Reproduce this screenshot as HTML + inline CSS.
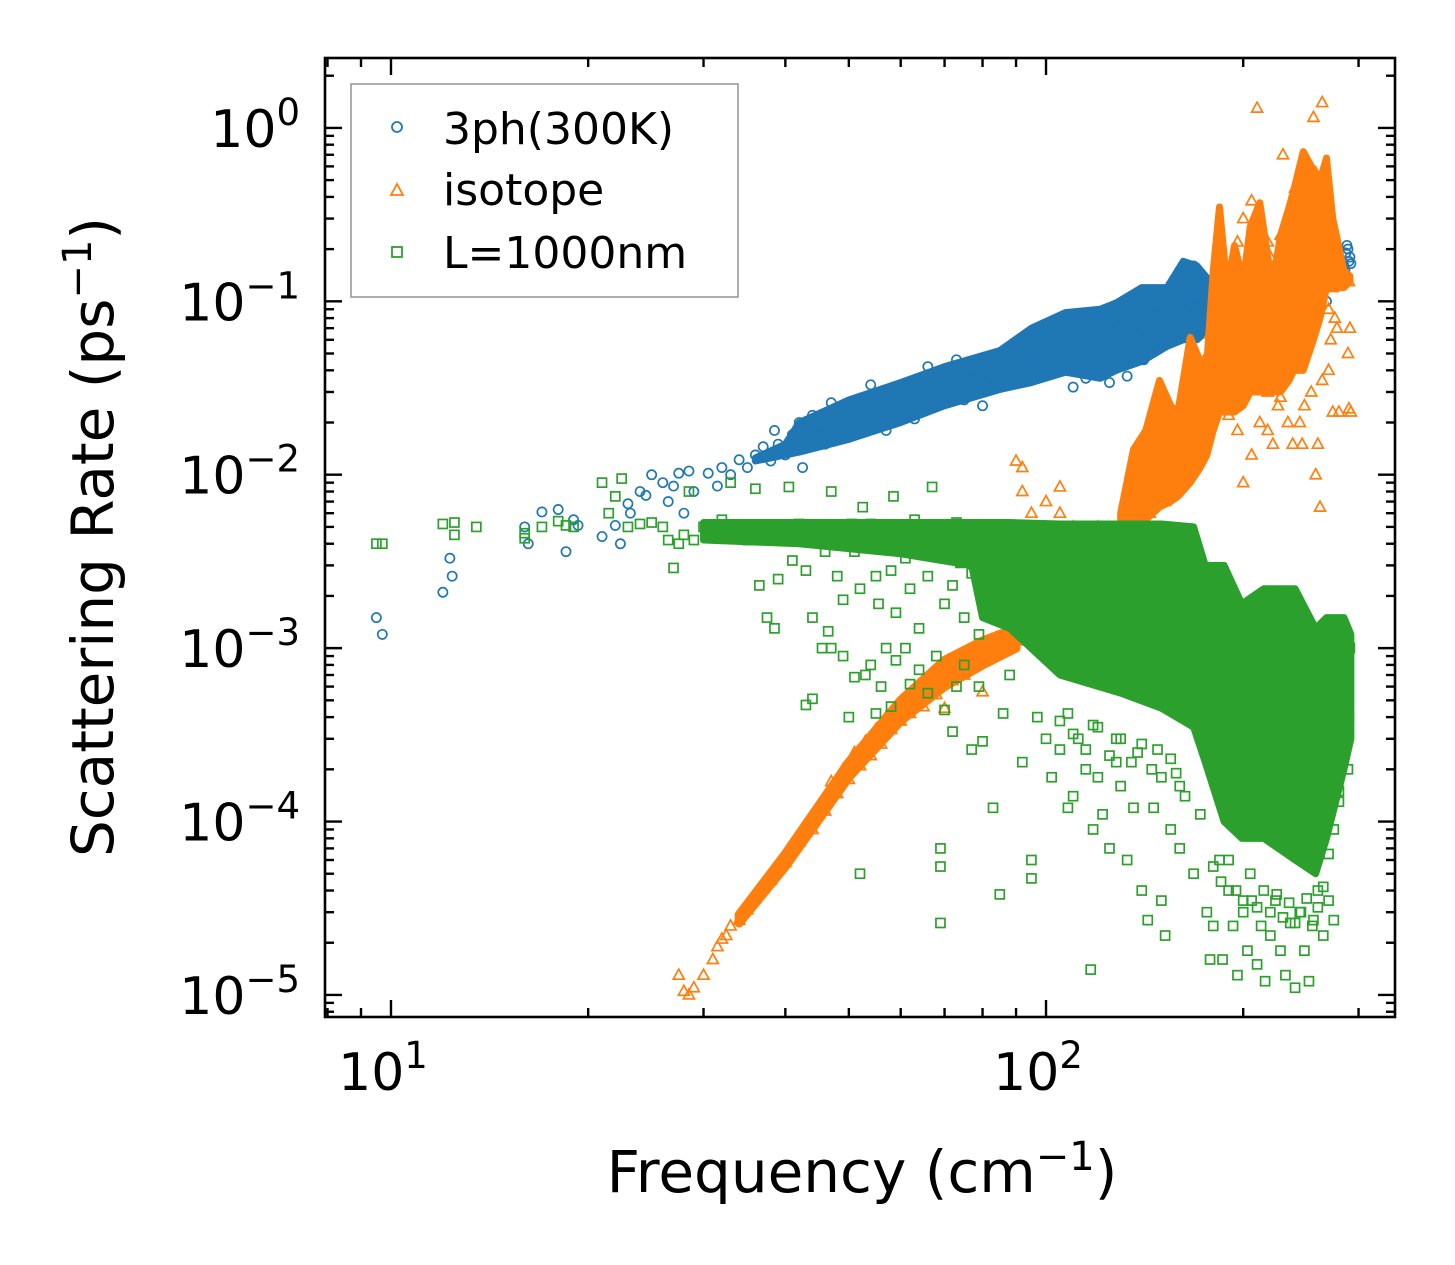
<!DOCTYPE html>
<html><head><meta charset="utf-8"><title>Scattering Rate vs Frequency</title>
<style>
html,body{margin:0;padding:0;background:#fff;}
svg{display:block;font-family:"DejaVu Sans","Liberation Sans",sans-serif;}
</style></head>
<body>
<svg id="chart" width="1455" height="1265" viewBox="0 0 1455 1265" xmlns="http://www.w3.org/2000/svg">
<rect x="0" y="0" width="1455" height="1265" fill="#fff"/>
<g id="marks"></g>
<g id="axes"></g>
<g id="legend">
  <rect x="351" y="84" width="387" height="213" fill="#fff" fill-opacity="0.8" stroke="#999" stroke-width="1.6"/>
  <circle cx="397" cy="127" r="5" fill="none" stroke="#1f77b4" stroke-width="1.8"/>
  <text x="443" y="144" font-size="44">3ph(300K)</text>
  <path d="M397,184 L403,195 L391,195 Z" fill="none" stroke="#ff7f0e" stroke-width="1.8"/>
  <text x="443" y="205" font-size="44">isotope</text>
  <rect x="392" y="247" width="10" height="10" fill="none" stroke="#2ca02c" stroke-width="1.8"/>
  <text x="443" y="268" font-size="44">L=1000nm</text>
</g>
<text x="862" y="1192" font-size="58" text-anchor="middle">Frequency (cm<tspan dy="-22" font-size="40">−1</tspan><tspan dy="22">)</tspan></text>
<text transform="translate(113,537) rotate(-90)" font-size="58" text-anchor="middle">Scattering Rate (ps<tspan dy="-22" font-size="40">−1</tspan><tspan dy="22">)</tspan></text>
</svg>
<script>
const blueFreq=[9.5,9.7,12,12.3,12.4,16,16.2,17,18,18.5,19,19.3,21,22,22.4,23,23.2,24,24.5,25,26,26.5,27,27.5,28,28.5,29,30.5,31.5,32,33,34,35,36,37,38,38.5,39,40,41,42,42.5,43,44,45,46,47,48,49,50,51,52,53,54,55,56,57,58,59,60,61,62,63,64,65,66,67,68,69,70,71,72,73,74,75,76,77,78,79,80,81,82,83,84,85,86,87,88,89,90,91,92,93,94,95,96,97,98,99,100,102,104,105,106,108,110,111,112,114,115,116,118,120,121,122,124,125,126,128,130,132,133,134,136,138,140,141,142,144,146,147,149,150,152,154,155,157,159,160,162,163,164,166,167,168,170,171,172,174,176,178,180,183,186,250,255,258,262,266,270,274,276,278,280,279,277,268,
 285,287,289,291,286,290,288,292];
const blueRate=[1.5e-3,1.2e-3,2.1e-3,3.3e-3,2.6e-3,5e-3,4e-3,6.1e-3,6.3e-3,3.6e-3,5.5e-3,5.1e-3,4.4e-3,5.1e-3,4e-3,6.8e-3,6e-3,8e-3,7.6e-3,1e-2,9e-3,7e-3,8.6e-3,1.02e-2,6e-3,1.05e-2,8e-3,1.02e-2,8.6e-3,1.1e-2,1e-2,1.22e-2,1.1e-2,1.3e-2,1.45e-2,1.2e-2,1.8e-2,1.5e-2,1.3e-2,1.7e-2,2e-2,1.1e-2,1.6e-2,2.2e-2,1.9e-2,1.5e-2,2.6e-2,2e-2,1.7e-2,2.3e-2,2.6e-2,1.9e-2,2.4e-2,3.3e-2,2.2e-2,2.7e-2,1.8e-2,2.6e-2,3e-2,2.3e-2,3.2e-2,2.7e-2,2.1e-2,3.5e-2,2.9e-2,4.2e-2,3.1e-2,2.6e-2,3.6e-2,3.3e-2,3.9e-2,3e-2,4.6e-2,3.5e-2,2.7e-2,4e-2,3.4e-2,4.5e-2,3.8e-2,2.5e-2,4.1e-2,3.6e-2,4.8e-2,3.9e-2,3.3e-2,4.4e-2,5.1e-2,3.9e-2,4.6e-2,5.4e-2,4.2e-2,3.5e-2,5.9e-2,4.8e-2,5.3e-2,4.4e-2,6.2e-2,5e-2,3.8e-2,5.6e-2,6.8e-2,5.1e-2,4.4e-2,7.5e-2,5.8e-2,3.2e-2,6.4e-2,4.9e-2,7.1e-2,3.6e-2,5.6e-2,8e-2,6.2e-2,4e-2,7e-2,5.3e-2,3.4e-2,7.6e-2,6.1e-2,8.2e-2,5e-2,3.7e-2,7.2e-2,9e-2,6.5e-2,8e-2,4.6e-2,1e-1,7.4e-2,5.6e-2,9.4e-2,7.8e-2,1.1e-1,8.7e-2,6.6e-2,1.2e-1,9e-2,7.2e-2,1.3e-1,1e-1,8e-2,1.5e-1,1.2e-1,9.3e-2,1.6e-1,1.05e-1,7.5e-2,1.3e-1,8.8e-2,1.1e-1,7.2e-2,9.5e-2,6.6e-2,8.4e-2,1.4e-1,1.2e-1,8e-2,1.1e-1,1.5e-1,1.3e-1,1.6e-1,1.9e-1,1.8e-1,2e-1,1.7e-1,1.6e-1,1e-1,
 1.6e-1,1.9e-1,2e-1,1.8e-1,1.5e-1,1.7e-1,2.1e-1,1.65e-1];
// dense-band envelope
const blueBandFreq=[36,40,42,50,60,70,85,95,107,121,128,140,153,162,170,178];
const blueBandLow=[1.2e-2,1.3e-2,1.35e-2,1.6e-2,2e-2,2.5e-2,3.1e-2,3.4e-2,3.9e-2,3.6e-2,4e-2,4.5e-2,5.5e-2,6e-2,6e-2,7e-2];
const blueBandHigh=[1.25e-2,1.5e-2,2e-2,2.7e-2,3.4e-2,4.2e-2,5.2e-2,7e-2,8.6e-2,9e-2,9.8e-2,1.2e-1,1.2e-1,1.7e-1,1.6e-1,1.3e-1];

const orangeFreq=[27.5,28,28.5,29,30,31,31.5,32,32.5,33,34,35,36,37,38,39,40,41,42,43,44,45,46,47,48,49,50,51,52,53,54,55,56,57,58,59,60,62,64,66,68,70,72,74,76,78,80,82,84,86,88,90,44,46,48,50,52,54,56,58,60,62,65,68,70,72,75,78,80,82,85,88,90,47,49,51,53,55,57,61,63,67,71,
 90,92,95,100,105,110,115,120,125,130,132,134,136,138,140,142,144,146,148,150,152,154,156,158,160,162,164,166,168,170,172,174,176,178,180,182,184,186,188,190,192,194,196,198,200,202,204,206,208,210,212,214,216,218,220,222,224,226,228,230,232,234,236,238,240,242,244,246,248,250,252,254,256,258,260,262,264,266,268,270,272,274,276,278,280,278,270,264,260,254,248,244,238,234,228,222,218,212,206,200,196,92,105,
 212,218,222,226,232,238,242,248,252,256,262,266,270,274,203,208,193,188,183,179,174,169,163,157,151,
 290,291,289,292,290,246,258];
const orangeRate=[1.3e-5,1.05e-5,1e-5,1.1e-5,1.3e-5,1.6e-5,1.9e-5,2.1e-5,2.2e-5,2.5e-5,2.7e-5,3.1e-5,3.6e-5,4.1e-5,4.6e-5,5.3e-5,5.8e-5,6.8e-5,7.6e-5,8.7e-5,1e-4,1.1e-4,1.3e-4,1.5e-4,1.65e-4,1.8e-4,2e-4,2.2e-4,2.3e-4,2.6e-4,2.8e-4,3e-4,3.3e-4,3.6e-4,3.9e-4,4.2e-4,4.4e-4,5e-4,5.6e-4,6.2e-4,6.8e-4,7.5e-4,8.2e-4,8.8e-4,9.4e-4,1e-3,1.05e-3,1.1e-3,1.15e-3,1.2e-3,1.25e-3,1.3e-3,9e-5,1.15e-4,1.45e-4,1.75e-4,2.1e-4,2.4e-4,2.8e-4,3.4e-4,3.8e-4,4.2e-4,4.6e-4,5.4e-4,4.5e-4,6.5e-4,7e-4,8e-4,5.6e-4,9e-4,9.5e-4,1e-3,1.1e-3,1.7e-4,2e-4,2.5e-4,2.9e-4,3.4e-4,4e-4,5.1e-4,5.8e-4,7e-4,8.5e-4,
 1.2e-2,8e-3,6e-3,7e-3,6e-3,5e-3,4.5e-3,5e-3,4e-3,5e-3,7e-3,9e-3,6e-3,1.1e-2,8e-3,1.4e-2,6e-3,1e-2,1.7e-2,1.2e-2,7e-3,2e-2,1.4e-2,9e-3,2.4e-2,1.6e-2,1.1e-2,2.9e-2,2e-2,1.3e-2,3.2e-2,4.5e-2,2.2e-2,6.5e-2,3e-2,1e-1,4.5e-2,1.6e-1,7e-2,2.2e-2,1.1e-1,3.5e-2,2.2e-1,1e-1,3e-1,1.5e-1,5e-2,3.8e-1,2e-1,1.3,2.5e-1,8e-2,1.2e-1,3e-2,1.8e-1,6e-2,1e-1,2.5e-2,2.4e-1,7e-1,1.3e-1,4e-2,3e-1,1.1e-1,4.5e-1,1.8e-1,6e-2,5e-1,2.2e-1,3e-1,7e-2,2.5e-1,1.15,5.5e-1,1e-1,6.5e-3,1.4,3e-1,1.5e-1,9e-2,6e-2,2.3e-2,8e-2,1.3e-1,2.3e-2,7e-2,4e-2,3.5e-2,1.5e-2,3e-2,2.5e-2,2e-2,1.5e-2,2e-2,2.8e-2,1.5e-2,1.8e-2,2e-2,1.3e-2,9e-3,1.8e-2,1.1e-2,8.5e-3,
 1.6e-1,2.2e-1,9e-2,1.4e-1,1.1e-1,2e-1,8e-2,1.8e-1,1.2e-1,3e-1,2.8e-1,1.9e-1,2.4e-1,1.2e-1,1.3e-1,2.7e-1,8e-2,1.3e-1,7e-2,5.5e-2,2.7e-2,2.5e-2,1.9e-2,1.5e-2,1.1e-2,
 1.3e-1,7e-2,5e-2,2.3e-2,2.4e-2,1.5e-2,1e-2];
const orangeBandFreq=[130,136,142,149,155,159,166,172,176,180,184,189,194,200,205,212,218,222,228,235,239,247,256,262,268,274,285,291];
const orangeBandLow=[4.5e-3,5e-3,5.5e-3,6.5e-3,7e-3,7.5e-3,9e-3,1.1e-2,1.3e-2,1.8e-2,2.3e-2,2.3e-2,2.3e-2,2.5e-2,3e-2,3e-2,3e-2,3e-2,3e-2,3.5e-2,4e-2,4e-2,6e-2,8e-2,1.2e-1,1.2e-1,1.2e-1,1.3e-1];
const orangeBandHigh=[6e-3,1.4e-2,1.8e-2,3.5e-2,2.5e-2,2.3e-2,6.2e-2,4.5e-2,4.4e-2,1.5e-1,3.5e-1,1.2e-1,2.1e-1,1.3e-1,2.7e-1,3.7e-1,1.8e-1,1.3e-1,2.4e-1,3.5e-1,4.4e-1,7.3e-1,5.7e-1,5e-1,6.7e-1,3e-1,1.5e-1,1.4e-1];
const orangeLineFreq=[34,40,50,60,70,80,90];
const orangeLineLow=[2.6e-5,5.5e-5,1.8e-4,3.8e-4,6e-4,8e-4,1e-3];
const orangeLineHigh=[2.9e-5,6.5e-5,2.2e-4,5e-4,8.5e-4,1.1e-3,1.3e-3];

const greenFreq=[9.5,9.7,12,12.5,12.5,13.5,16,16,17,18,18.5,19,21,21.5,22,22.5,23,24,25,26,26.5,27,27.5,28,28.5,29,30,31,32,33,33.5,34,35,36,36.5,37,37.5,38,38.5,39,40,40.5,41,42,42.5,43,44,44.5,45,45.5,46,46.5,47,47,48,48.5,49,50,50.5,51,52,52.5,53,54,55,55.5,56,57,58,58.5,59,60,61,62,63,64,65,66,67,68,69,70,71,72,73,74,75,76,77,78,79,80,
 43,44,47,49,50,51,52,53,54,55,56,57,58,59,61,62,64,66,68,69,69,69,70,72,73,75,77,79,80,83,85,86,88,92,95,95,97,100,102,105,108,110,112,115,117,118,120,122,125,128,130,133,136,140,143,146,150,152,155,160,163,168,172,176,178,180,184,186,190,193,196,200,203,206,210,213,216,220,224,228,232,236,240,244,248,252,256,260,265,270,275,280,278,282,
 105,110,115,120,125,130,135,140,145,150,155,160,108,118,128,138,148,158,
 180,185,190,195,200,205,210,215,220,225,230,235,240,245,250,255,260,265,270,275,280,285,290,288,291,286,289];
const greenRate=[4e-3,4e-3,5.2e-3,5.3e-3,4.5e-3,5e-3,4.6e-3,4.3e-3,5e-3,5.4e-3,5.1e-3,5e-3,9e-3,6e-3,7.5e-3,9.5e-3,5e-3,5.2e-3,5.3e-3,5e-3,4.2e-3,2.9e-3,4e-3,4.5e-3,8e-3,4.2e-3,5e-3,4.6e-3,5.5e-3,9e-3,4.3e-3,4.8e-3,4.2e-3,8.3e-3,2.3e-3,5e-3,1.5e-3,4.6e-3,1.3e-3,2.5e-3,4.8e-3,8.5e-3,3.2e-3,5.2e-3,4.3e-3,2.8e-3,1.5e-3,5e-3,4.2e-3,1e-3,3.6e-3,1.25e-3,8e-3,5e-3,2.6e-3,4.6e-3,1.9e-3,4.8e-3,5.2e-3,3.6e-3,2.2e-3,6.5e-3,4.4e-3,5.2e-3,2.6e-3,1.8e-3,4.9e-3,3.9e-3,2.8e-3,7.5e-3,1.6e-3,4.8e-3,3.3e-3,2.2e-3,5.5e-3,1.3e-3,4.2e-3,2.6e-3,8.5e-3,5e-3,3.6e-3,1.8e-3,4.5e-3,2.3e-3,5.3e-3,3.1e-3,1.5e-3,4.8e-3,2.7e-3,3.8e-3,1.2e-3,4.2e-3,
 4.7e-4,5.1e-4,1e-3,9e-4,4e-4,6.8e-4,5e-5,7e-4,8e-4,4.2e-4,6e-4,1e-3,4.6e-4,8.5e-4,1e-3,6.2e-4,7.5e-4,5.5e-4,9e-4,7e-5,5.5e-5,2.6e-5,4.4e-4,3.3e-4,6e-4,8e-4,2.6e-4,6e-4,2.9e-4,1.2e-4,3.8e-5,4.2e-4,7e-4,2.2e-4,6e-5,4.7e-5,4e-4,3e-4,1.8e-4,2.6e-4,1.2e-4,1.4e-4,3e-4,2e-4,1.4e-5,9e-5,1.8e-4,1.1e-4,7e-5,2.2e-4,1.6e-4,6e-5,1.2e-4,4e-5,2.7e-5,1.2e-4,3.5e-5,2.2e-5,9e-5,7e-5,1.4e-4,5e-5,1.1e-4,3e-5,1.6e-5,2.5e-5,6e-5,1.6e-5,4e-5,2.5e-5,1.3e-5,3e-5,1.8e-5,3.5e-5,1.5e-5,2.5e-5,1.2e-5,2.2e-5,3.5e-5,1.8e-5,1.3e-5,2.6e-5,1.1e-5,3e-5,1.8e-5,1.2e-5,2.7e-5,4e-5,2.2e-5,3.5e-5,2.7e-5,1.3e-4,3e-4,6e-4,
 3.8e-4,3.2e-4,2.6e-4,3.5e-4,2.4e-4,3e-4,2.2e-4,2.8e-4,2e-4,1.8e-4,2.3e-4,1.6e-4,4.2e-4,3.6e-4,3e-4,2.5e-4,2.6e-4,1.9e-4,
 5.5e-5,4.5e-5,6e-5,4e-5,3.5e-5,5e-5,3.2e-5,4e-5,3e-5,3.8e-5,2.8e-5,3.4e-5,2.6e-5,3e-5,3.6e-5,2.5e-5,3.2e-5,4.2e-5,6.5e-5,9e-5,1.5e-4,2.5e-4,4e-4,7e-4,1e-3,5e-4,2e-4];
const greenBandFreq=[30,42,60,77,80,88,105,130,150,168,175,187,199,215,240,258,268,285,292];
const greenBandLow=[4.2e-3,4e-3,3.5e-3,3e-3,1.5e-3,1.3e-3,7e-4,5.5e-4,4.5e-4,3.5e-4,2.2e-4,1e-4,8e-5,8e-5,6e-5,5e-5,8e-5,2e-4,3e-4];
const greenBandHigh=[5.3e-3,5.3e-3,5.3e-3,5.3e-3,5.3e-3,5.3e-3,5.2e-3,5.2e-3,5.2e-3,5e-3,3e-3,3e-3,1.8e-3,2.2e-3,2.2e-3,1.3e-3,1.5e-3,1.5e-3,1.2e-3];

const xTickVals=[10,100];
const xTickExp=['1','2'];
const yTickVals=[1,0.1,0.01,0.001,1e-4,1e-5];
const yTickExp=['0','−1','−2','−3','−4','−5'];

const NS='http://www.w3.org/2000/svg';
const L=325,R=1395,T=58,B=1017;
const x0=Math.log10(7.93),x1=Math.log10(341);
const y0=Math.log10(7.46e-6),y1=Math.log10(2.53);
function xs(v){return L+(Math.log10(v)-x0)/(x1-x0)*(R-L);}
function ys(v){return B-(Math.log10(v)-y0)/(y1-y0)*(B-T);}
function mk(tag,attrs,parent){const e=document.createElementNS(NS,tag);for(const k in attrs)e.setAttribute(k,attrs[k]);parent.appendChild(e);return e;}
function bandPath(fr,lo,hi){let d='';for(let i=0;i<fr.length;i++)d+=(i?'L':'M')+xs(fr[i])+','+ys(hi[i]);for(let i=fr.length-1;i>=0;i--)d+='L'+xs(fr[i])+','+ys(lo[i]);return d+'Z';}

const marks=document.getElementById('marks');
const clip=mk('clipPath',{id:'pc'},marks);
mk('rect',{x:L,y:T,width:R-L,height:B-T},clip);
const gB=mk('g',{'clip-path':'url(#pc)'},marks);


const gO=mk('g',{'clip-path':'url(#pc)'},marks);


const gG=mk('g',{'clip-path':'url(#pc)'},marks);



const bb=mk('path',{d:bandPath(blueBandFreq,blueBandLow,blueBandHigh),fill:'#1f77b4',stroke:'#1f77b4','stroke-width':7,'stroke-linejoin':'round'},gB);


for(let i=0;i<blueFreq.length;i++){
  const c=mk('circle',{cx:xs(blueFreq[i]),cy:ys(blueRate[i]),r:4.6,fill:'none',stroke:'#1f77b4','stroke-width':1.7},gB);
  
  
}
const ob=mk('path',{d:bandPath(orangeBandFreq,orangeBandLow,orangeBandHigh),fill:'#ff7f0e',stroke:'#ff7f0e','stroke-width':7,'stroke-linejoin':'round'},gO);


const ol=mk('path',{d:bandPath(orangeLineFreq,orangeLineLow,orangeLineHigh),fill:'#ff7f0e',stroke:'#ff7f0e','stroke-width':9,'stroke-linejoin':'round'},gO);


for(let i=0;i<orangeFreq.length;i++){
  const x=xs(orangeFreq[i]),y=ys(orangeRate[i]);
  const p=mk('path',{d:`M${x},${y-6}L${x+5.5},${y+4}L${x-5.5},${y+4}Z`,fill:'none',stroke:'#ff7f0e','stroke-width':1.7},gO);
  
  
}
const gbd=mk('path',{d:bandPath(greenBandFreq,greenBandLow,greenBandHigh),fill:'#2ca02c',stroke:'#2ca02c','stroke-width':7,'stroke-linejoin':'round'},gG);


for(let i=0;i<greenFreq.length;i++){
  const x=xs(greenFreq[i]),y=ys(greenRate[i]);
  const s=mk('rect',{x:x-4.5,y:y-4.5,width:9,height:9,fill:'none',stroke:'#2ca02c','stroke-width':1.7},gG);
  
  
}

const axes=document.getElementById('axes');
const frame=mk('rect',{x:L,y:T,width:R-L,height:B-T,fill:'none',stroke:'#000','stroke-width':2.6},axes);


function tick(x1_,y1_,x2_,y2_,name){const l=mk('line',{x1:x1_,y1:y1_,x2:x2_,y2:y2_,stroke:'#000','stroke-width':2.4},axes);}
for(let d=1;d<=300;d*=10){for(let m=1;m<10;m++){const v=d*m;if(v<7.93||v>341)continue;const x=xs(v);const len=(m===1)?17:9;tick(x,B,x,B-len,'x-tick');tick(x,T,x,T+len,'x-tick-top');}}
for(let e=-6;e<=0;e++){for(let m=1;m<10;m++){const v=m*Math.pow(10,e);if(v<7.46e-6||v>2.53)continue;const y=ys(v);const len=(m===1)?17:9;tick(L,y,L+len,y,'y-tick');tick(R,y,R-len,y,'y-tick-right');}}
for(let i=0;i<xTickVals.length;i++){
  const t=mk('text',{x:xs(xTickVals[i])-8,y:1090,'font-size':52,'text-anchor':'middle'},axes);
  
  
  t.textContent='10';
  const s=mk('tspan',{dy:-22,'font-size':37},t);s.textContent=xTickExp[i];
}
for(let i=0;i<yTickVals.length;i++){
  const t=mk('text',{x:300,y:ys(yTickVals[i])+19,'font-size':52,'text-anchor':'end'},axes);
  
  
  t.textContent='10';
  const s=mk('tspan',{dy:-22,'font-size':37},t);s.textContent=yTickExp[i];
}
</script>
</body></html>
